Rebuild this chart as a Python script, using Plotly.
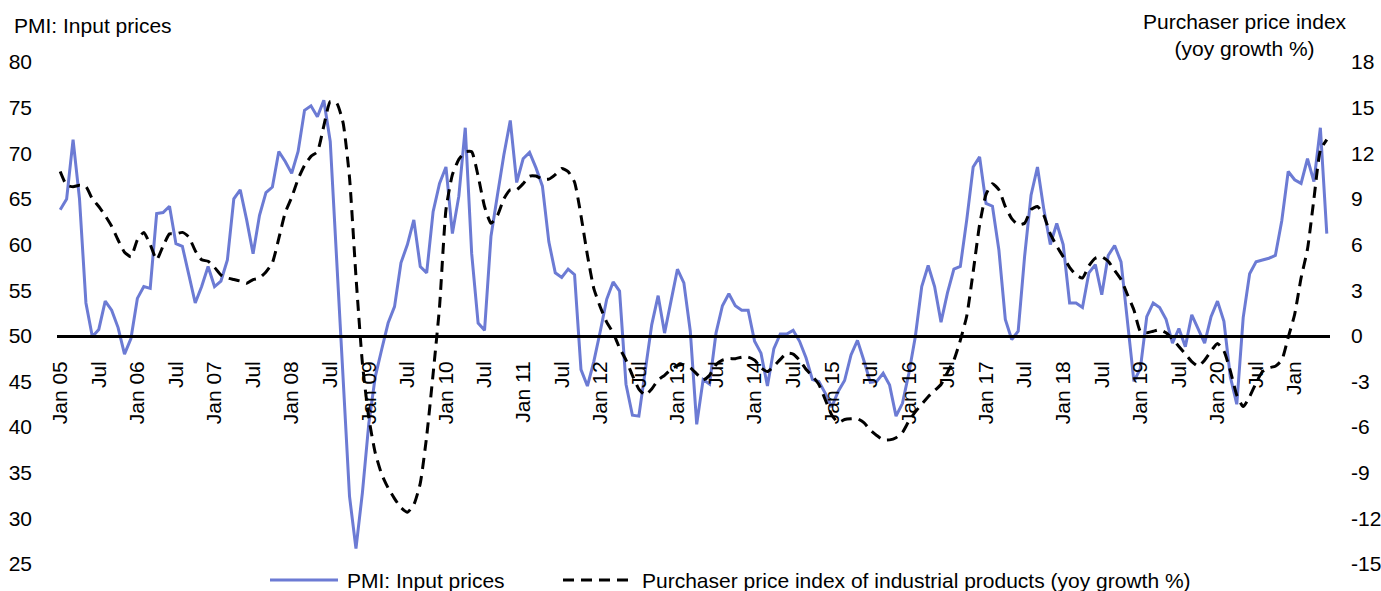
import plotly.graph_objects as go
import pandas as pd

# Monthly observations, Jan 2005 - Jun 2021
months = [d.strftime("%Y-%m") for d in pd.date_range("2005-01-01", "2021-06-01", freq="MS")]

# PMI: input prices (index, left axis)
pmi_input_prices = [
    63.8, 65.0, 71.5, 65.0, 53.6, 49.9, 50.7, 53.8, 52.8, 50.9, 48.0, 49.7,   # 2005
    54.1, 55.4, 55.2, 63.4, 63.5, 64.2, 60.1, 59.8, 56.7, 53.6, 55.4, 57.6,   # 2006
    55.4, 56.0, 58.3, 65.0, 66.0, 62.7, 59.0, 63.2, 65.7, 66.3, 70.2, 69.1,   # 2007
    67.8, 70.2, 74.7, 75.2, 74.0, 75.8, 71.3, 58.0, 44.6, 32.4, 26.7, 32.8,   # 2008
    40.4, 45.5, 48.5, 51.4, 53.2, 58.0, 60.0, 62.7, 57.6, 56.9, 63.6, 66.7,   # 2009
    68.5, 61.2, 65.3, 72.8, 59.0, 51.4, 50.6, 60.9, 65.4, 69.8, 73.6, 66.8,   # 2010
    69.4, 70.1, 68.4, 66.4, 60.3, 56.9, 56.4, 57.3, 56.7, 46.3, 44.5, 47.2,   # 2011
    50.5, 54.0, 55.9, 54.9, 44.7, 41.3, 41.2, 46.2, 51.2, 54.4, 50.3, 53.8,   # 2012
    57.3, 55.8, 50.5, 40.3, 45.2, 44.7, 50.3, 53.3, 54.6, 53.3, 52.8, 52.8,   # 2013
    49.4, 48.1, 44.5, 48.6, 50.2, 50.2, 50.6, 49.4, 47.6, 45.2, 45.0, 43.7,   # 2014
    42.2, 43.9, 45.1, 47.9, 49.5, 47.3, 44.9, 45.0, 45.9, 44.6, 41.2, 42.6,   # 2015
    45.9, 49.9, 55.4, 57.7, 55.4, 51.5, 54.7, 57.3, 57.6, 62.7, 68.5, 69.6,   # 2016
    64.5, 64.2, 59.4, 51.8, 49.6, 50.5, 58.7, 65.4, 68.5, 63.8, 60.0, 62.3,   # 2017
    60.0, 53.6, 53.6, 53.1, 56.9, 57.8, 54.5, 58.8, 59.9, 58.1, 51.4, 45.0,   # 2018
    46.4, 52.1, 53.6, 53.1, 51.8, 49.2, 50.8, 48.8, 52.3, 50.7, 49.2, 52.1,   # 2019
    53.8, 51.6, 45.5, 42.5, 52.0, 56.8, 58.1, 58.3, 58.5, 58.8, 62.6, 68.0,   # 2020
    67.1, 66.7, 69.4, 66.9, 72.8, 61.2,                                       # 2021
]

# Purchaser price index of industrial products, yoy growth % (right axis)
purchaser_price_yoy = [
    10.8, 9.9, 9.8, 9.9, 9.8, 9.0, 8.5, 7.9, 7.2, 6.3, 5.5, 5.2,              # 2005
    6.3, 6.8, 6.0, 5.0, 5.9, 6.7, 6.7, 6.8, 6.5, 5.6, 5.0, 4.9,               # 2006
    4.5, 4.0, 3.8, 3.7, 3.6, 3.45, 3.7, 3.8, 4.2, 4.8, 6.4, 8.1,              # 2007
    9.1, 10.3, 11.2, 11.8, 12.1, 13.8, 15.4, 15.3, 14.0, 10.4, 3.9, -1.8,     # 2008
    -5.4, -7.7, -9.1, -10.0, -10.7, -11.3, -11.6, -11.1, -9.7, -6.6, -2.5, 1.9,  # 2009
    8.3, 10.6, 11.6, 12.1, 12.1, 10.5, 8.5, 7.4, 7.9, 9.0, 9.6, 9.6,          # 2010
    10.0, 10.5, 10.5, 10.3, 10.3, 10.6, 11.0, 10.8, 10.1, 7.9, 5.3, 3.1,      # 2011
    1.9, 0.9, 0.2, -0.8, -1.6, -2.6, -3.5, -3.9, -3.5, -2.9, -2.6, -2.2,      # 2012
    -1.95, -1.9, -2.1, -2.5, -2.9, -2.6, -1.9, -1.6, -1.5, -1.5, -1.4, -1.4,  # 2013
    -1.6, -2.1, -2.35, -2.0, -1.55, -1.15, -1.2, -1.6, -2.2, -2.65, -3.2, -4.2,  # 2014
    -5.2, -5.7, -5.5, -5.45, -5.45, -5.7, -6.2, -6.55, -6.84, -6.84, -6.7, -6.35,  # 2015
    -5.6, -5.0, -4.5, -4.0, -3.6, -3.2, -2.4, -1.6, -0.3, 1.3, 4.2, 7.3,      # 2016
    9.3, 10.0, 9.6, 8.5, 7.7, 7.3, 7.4, 8.3, 8.5, 7.9, 6.7, 5.9,              # 2017
    5.2, 4.5, 4.0, 3.8, 4.6, 5.1, 5.2, 4.9, 4.3, 3.7, 2.7, 1.7,               # 2018
    0.3, 0.2, 0.3, 0.4, 0.2, -0.2, -0.7, -1.2, -1.7, -2.0, -1.6, -1.0,        # 2019
    -0.5, -1.0, -2.3, -3.9, -4.65, -4.0, -3.1, -2.35, -2.1, -2.0, -1.6, -0.1, # 2020
    1.4, 3.8, 5.7, 9.0, 12.2, 12.9,                                           # 2021
]

# Axis tick settings
tick_months = months[::6]
tick_labels = [
    "Jan 05", "Jul", "Jan 06", "Jul", "Jan 07", "Jul", "Jan 08", "Jul",
    "Jan 09", "Jul", "Jan 10", "Jul", "Jan 11", "Jul", "Jan 12", "Jul",
    "Jan 13", "Jul", "Jan 14", "Jul", "Jan 15", "Jul", "Jan 16", "Jul",
    "Jan 17", "Jul", "Jan 18", "Jul", "Jan 19", "Jul", "Jan 20", "Jul", "Jan",
]
left_ticks = [25, 30, 35, 40, 45, 50, 55, 60, 65, 70, 75, 80]
right_ticks = [-15, -12, -9, -6, -3, 0, 3, 6, 9, 12, 15, 18]
right_tick_text = ["-15", "-12", "-9", "-6", "-3", "0", "3", "6", "9", "12", "15", "18"]

# Page geometry (pixels)
W, H = 1381, 591
ML, MR, MT, MB = 57, 51, 62, 27
PW, PH = W - ML - MR, H - MT - MB


def px_x(x):
    return (x - ML) / PW


def px_y(y):
    return (H - MB - y) / PH


FONT = "Arial, Liberation Sans, sans-serif"
FS = 21
BLUE = "#6C7BD4"

fig = go.Figure()

fig.add_trace(go.Scatter(
    x=months, y=pmi_input_prices, name="PMI: Input prices",
    mode="lines", line=dict(color=BLUE, width=3), showlegend=False,
))
fig.add_trace(go.Scatter(
    x=months, y=purchaser_price_yoy, yaxis="y2",
    name="Purchaser price index of industrial products (yoy growth %)",
    mode="lines", line=dict(color="black", width=3, dash="11px,7px", shape="spline", smoothing=0.5),
    showlegend=False,
))

y_lo, y_hi = left_ticks[0], left_ticks[-1]
axis_pos = (50 - y_lo) / (y_hi - y_lo)

fig.update_layout(
    width=W, height=H,
    margin=dict(l=ML, r=MR, t=MT, b=MB, pad=0, autoexpand=False),
    paper_bgcolor="white", plot_bgcolor="white",
    font=dict(family=FONT, size=FS, color="black"),
    xaxis=dict(
        type="category", categoryorder="array", categoryarray=months,
        range=[-0.5, len(months) - 0.5],
        anchor="free", position=axis_pos, automargin=False,
        showline=True, linecolor="black", linewidth=3,
        tickmode="array", tickvals=tick_months, ticktext=tick_labels,
        tickangle=-90, ticks="", ticklabelstandoff=15,
        showgrid=False, zeroline=False,
        tickfont=dict(family=FONT, size=FS, color="black"),
    ),
    yaxis=dict(
        range=[y_lo, y_hi], tickmode="array", tickvals=left_ticks,
        automargin=False,
        showgrid=False, zeroline=False, showline=False, ticks="",
        ticklabelstandoff=24,
        tickfont=dict(family=FONT, size=FS, color="black"),
    ),
    yaxis2=dict(
        range=[right_ticks[0], right_ticks[-1]], tickmode="array",
        tickvals=right_ticks, ticktext=right_tick_text,
        overlaying="y", side="right", automargin=False,
        showgrid=False, zeroline=False, showline=False, ticks="",
        ticklabelstandoff=20,
        tickfont=dict(family=FONT, size=FS, color="black"),
    ),
    showlegend=False,
)

# Axis titles
fig.add_annotation(
    x=px_x(12), y=px_y(25), xref="paper", yref="paper",
    text="PMI: Input prices", showarrow=False, xanchor="left", yanchor="middle",
    font=dict(family=FONT, size=FS, color="black"),
)
fig.add_annotation(
    x=px_x(1245), y=px_y(35), xref="paper", yref="paper",
    text="Purchaser price index<br>(yoy growth %)", showarrow=False,
    xanchor="center", yanchor="middle", align="center",
    font=dict(family=FONT, size=FS, color="black"),
)

# Legend row along the bottom
leg_y = px_y(580)
fig.add_shape(type="line", xref="paper", yref="paper",
              x0=px_x(270), x1=px_x(338), y0=leg_y, y1=leg_y,
              line=dict(color=BLUE, width=3))
fig.add_annotation(x=px_x(345), y=leg_y, xref="paper", yref="paper",
                   text="PMI: Input prices", showarrow=False,
                   xanchor="left", yanchor="middle",
                   font=dict(family=FONT, size=FS, color="black"))
fig.add_shape(type="line", xref="paper", yref="paper",
              x0=px_x(563), x1=px_x(628), y0=leg_y, y1=leg_y,
              line=dict(color="black", width=3, dash="11px,7px"))
fig.add_annotation(x=px_x(640), y=leg_y, xref="paper", yref="paper",
                   text="Purchaser price index of industrial products (yoy growth %)",
                   showarrow=False, xanchor="left", yanchor="middle",
                   font=dict(family=FONT, size=FS, color="black"))

fig.write_html("out.html")
